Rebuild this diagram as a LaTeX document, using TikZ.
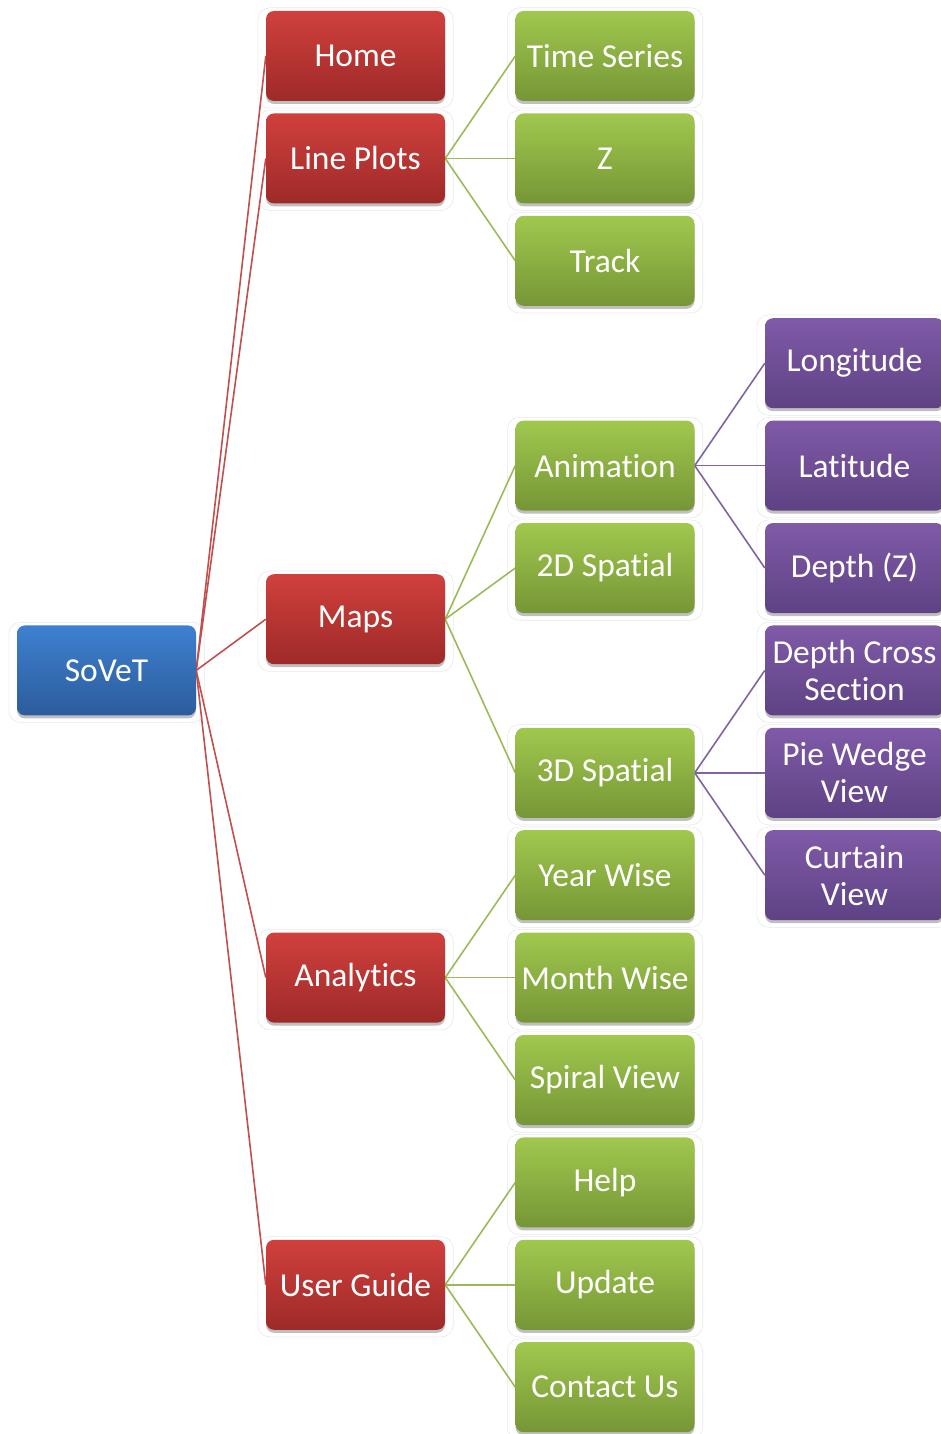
\documentclass[tikz,border=0pt]{standalone}
\usepackage{fontspec}
\setmainfont{Carlito}[Ligatures={NoCommon,NoContextual}]
\usetikzlibrary{shadows,backgrounds}
\definecolor{blueT}{RGB}{62,128,208}
\definecolor{blueB}{RGB}{44,92,156}
\definecolor{redT}{RGB}{208,64,61}
\definecolor{redB}{RGB}{158,42,40}
\definecolor{greenT}{RGB}{160,200,78}
\definecolor{greenB}{RGB}{118,150,54}
\definecolor{purpT}{RGB}{128,90,168}
\definecolor{purpB}{RGB}{94,66,132}
\definecolor{lineRed}{RGB}{192,80,77}
\definecolor{lineGreen}{RGB}{155,187,89}
\definecolor{linePurp}{RGB}{128,100,162}
\tikzset{
  base/.style={rounded corners=8pt, minimum width=179pt, minimum height=90pt,
    inner sep=0pt, text=white, align=center,
    font=\fontsize{33.5}{37}\selectfont,
    drop shadow={shadow xshift=0pt, shadow yshift=-3pt, opacity=0.25, fill=black}},
  bluebox/.style={base, top color=blueT, bottom color=blueB},
  redbox/.style={base, top color=redT, bottom color=redB},
  greenbox/.style={base, top color=greenT, bottom color=greenB},
  purpbox/.style={base, top color=purpT, bottom color=purpB},
  glow/.style={draw=black!9, line width=0.6pt, rounded corners=12pt},
  redline/.style={draw=lineRed, line width=1.6pt},
  greenline/.style={draw=lineGreen, line width=1.6pt},
  purpline/.style={draw=linePurp, line width=1.6pt}
}
\begin{document}
\begin{tikzpicture}[x=1pt,y=-1pt]
\useasboundingbox (0,0) rectangle (941,1434);
% root
\node[bluebox] (sovet) at (106.5,670.4) {SoVeT};
% level 1
\node[redbox] (home) at (355.5,56) {Home};
\node[redbox] (lineplots) at (355.5,158.4) {Line Plots};
\node[redbox] (maps) at (355.5,619.2) {Maps};
\node[redbox] (analytics) at (355.5,977.6) {Analytics};
\node[redbox] (userguide) at (355.5,1284.8) {User Guide};
% level 2
\node[greenbox] (ts) at (605,56) {Time Series};
\node[greenbox] (z) at (605,158.4) {Z};
\node[greenbox] (track) at (605,260.8) {Track};
\node[greenbox] (anim) at (605,465.6) {Animation};
\node[greenbox] (sp2) at (605,568) {2D Spatial};
\node[greenbox] (sp3) at (605,772.8) {3D Spatial};
\node[greenbox] (year) at (605,875.2) {Year Wise};
\node[greenbox] (month) at (605,977.6) {Month Wise};
\node[greenbox] (spiral) at (605,1080) {Spiral View};
\node[greenbox] (help) at (605,1182.4) {Help};
\node[greenbox] (update) at (605,1284.8) {Update};
\node[greenbox] (contact) at (605,1387.2) {Contact Us};
% level 3
\node[purpbox] (lon) at (854.5,363.2) {Longitude};
\node[purpbox] (lat) at (854.5,465.6) {Latitude};
\node[purpbox] (depth) at (854.5,568) {Depth (Z)};
\node[purpbox] (dcs) at (854.5,670.4) {Depth Cross\\Section};
\node[purpbox] (pie) at (854.5,772.8) {Pie Wedge\\View};
\node[purpbox] (curtain) at (854.5,875.2) {Curtain\\View};
\begin{scope}[on background layer]
\foreach \n in {sovet,home,lineplots,maps,analytics,userguide,ts,z,track,anim,sp2,sp3,year,month,spiral,help,update,contact,lon,lat,depth,dcs,pie,curtain}
  \draw[glow] ([shift={(-8,-3)}]\n.north west) rectangle ([shift={(8,7)}]\n.south east);
\foreach \n in {home,lineplots,maps,analytics,userguide}
  \draw[redline] (sovet.east) -- (\n.west);
\foreach \n in {ts,z,track}
  \draw[greenline] (lineplots.east) -- (\n.west);
\foreach \n in {anim,sp2,sp3}
  \draw[greenline] (maps.east) -- (\n.west);
\foreach \n in {year,month,spiral}
  \draw[greenline] (analytics.east) -- (\n.west);
\foreach \n in {help,update,contact}
  \draw[greenline] (userguide.east) -- (\n.west);
\foreach \n in {lon,lat,depth}
  \draw[purpline] (anim.east) -- (\n.west);
\foreach \n in {dcs,pie,curtain}
  \draw[purpline] (sp3.east) -- (\n.west);
\end{scope}
\end{tikzpicture}
\end{document}
